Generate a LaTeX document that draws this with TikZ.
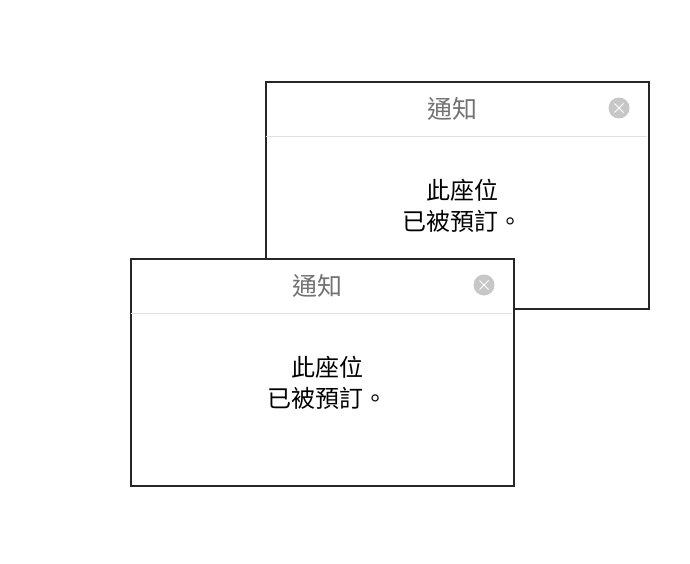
\documentclass[tikz,border=0pt]{standalone}
\usepackage{fontspec}
\usetikzlibrary{calc}
\newfontfamily\cjk{Noto Sans CJK TC}
\begin{document}
\begin{tikzpicture}[x=1pt,y=-1pt,
  box/.style={draw=black!85,line width=1.6pt,fill=white},
  hline/.style={draw=black!12,line width=0.8pt},
  ttl/.style={font=\cjk\fontsize{25}{28}\selectfont,text=black!55},
  bodytext/.style={font=\cjk\fontsize{24}{31}\selectfont,align=center,text=black},
  closec/.style={circle,fill=black!22,minimum size=21pt,inner sep=0pt}]
\useasboundingbox (0,0) rectangle (690,564);
\foreach \n/\ox/\oy in {b/265/81, f/130/258}{
  \begin{scope}[shift={(\ox,\oy)}]
  \node[box,minimum width=383pt,minimum height=227pt,inner sep=0pt,anchor=north west] (\n box) at (0,0) {};
  \draw[hline] (0.8,55) -- (382.2,55);
  \node[ttl] (\n title) at (187,28) {通知};
  \node[closec] (\n close) at (354,27) {};
  \draw[white,line width=0.9pt] ($(\n close)+(-4.5,-4.5)$) -- ($(\n close)+(4.5,4.5)$) ($(\n close)+(-4.5,4.5)$) -- ($(\n close)+(4.5,-4.5)$);
  \node[bodytext] (\n body) at (197,125) {此座位\\已被預訂。};
  \end{scope}
}
\end{tikzpicture}
\end{document}
